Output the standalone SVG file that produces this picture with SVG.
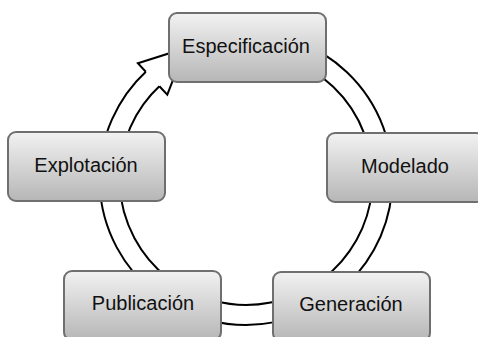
<svg xmlns="http://www.w3.org/2000/svg" width="478" height="337" viewBox="0 0 478 337">
<defs>
<linearGradient id="g" x1="0" y1="0" x2="0" y2="1">
<stop offset="0" stop-color="#f2f2f2"/>
<stop offset="1" stop-color="#b6b6b6"/>
</linearGradient>
<style>
.box{fill:url(#g);stroke:#6f6f6f;stroke-width:2}
.lbl{font-family:"Liberation Sans",Arial,sans-serif;font-size:20px;fill:#111;text-anchor:middle}
.bandO{fill:none;stroke:#000;stroke-width:22}
.bandI{fill:none;stroke:#fff;stroke-width:18}
.head{fill:#fff;stroke:#000;stroke-width:2;stroke-linejoin:miter}
</style>
</defs>
<rect width="478" height="337" fill="#fff"/>
<g id="connectors">
<path class="bandO" d="M292.7,50.2 A136.5,136.5 0 1 1 153.6,78.0"/>
<path class="bandI" d="M292.7,50.2 A136.5,136.5 0 1 1 153.6,78.0"/>
<path class="head" d="M145.8,71.7 L137.9,63.3 L185.4,48.2 L167.3,94.7 L159.4,86.3"/>
</g>
<g id="especificacion">
<rect class="box" x="169" y="13" width="157" height="69" rx="8"/>
<text class="lbl" x="246" y="53">Especificación</text>
</g>
<g id="modelado">
<rect class="box" x="327" y="133" width="157" height="69" rx="8"/>
<text class="lbl" x="405" y="173">Modelado</text>
</g>
<g id="generacion">
<rect class="box" x="273" y="272" width="157" height="69" rx="8"/>
<text class="lbl" x="351" y="311">Generación</text>
</g>
<g id="publicacion">
<rect class="box" x="64" y="271" width="157" height="69" rx="8"/>
<text class="lbl" x="143" y="310">Publicación</text>
</g>
<g id="explotacion">
<rect class="box" x="8" y="132" width="157" height="69" rx="8"/>
<text class="lbl" x="86" y="172">Explotación</text>
</g>
</svg>
